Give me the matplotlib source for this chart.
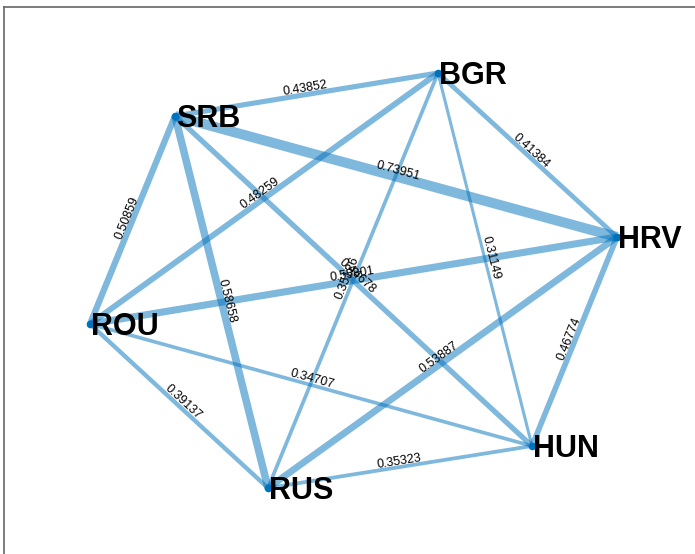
import numpy as np
import matplotlib.pyplot as plt

# node layout (screen-like coords, y grows downward)
nodes = ["BGR", "SRB", "HRV", "ROU", "HUN", "RUS"]
node_x = [438, 175, 617, 90, 532, 268]
node_y = [73, 116, 237, 324, 446, 488]

# edges and weights
src = ["SRB", "SRB", "SRB", "SRB", "SRB", "BGR", "BGR", "BGR", "BGR", "ROU", "ROU", "ROU", "HRV", "HRV", "HUN"]
dst = ["BGR", "HRV", "ROU", "RUS", "HUN", "ROU", "HRV", "HUN", "RUS", "HRV", "HUN", "RUS", "HUN", "RUS", "RUS"]
weights = [0.43852, 0.73951, 0.50859, 0.58658, 0.44678, 0.48259, 0.41384, 0.31149,
           0.35126, 0.55801, 0.34707, 0.39137, 0.46774, 0.53887, 0.35323]

BLUE = "#0072BD"

fig = plt.figure(figsize=(6.95, 5.54), dpi=100)
ax = fig.add_axes([4 / 695, 0, 691 / 695, 547 / 554])
ax.set_xlim(4, 695)
ax.set_ylim(554, 7)

pos = {n: (x, y) for n, x, y in zip(nodes, node_x, node_y)}

for s, d, w in zip(src, dst, weights):
    (x1, y1), (x2, y2) = pos[s], pos[d]
    lw = (16.3 * w - 2.0) * 0.72
    ax.plot([x1, x2], [y1, y2], color=BLUE, alpha=0.5, lw=lw, solid_capstyle="butt", zorder=1)

    # label at midpoint, rotated along the edge and kept upright
    ang = np.degrees(np.arctan2(-(y2 - y1), x2 - x1))
    if ang > 90:
        ang -= 180
    elif ang < -90:
        ang += 180
    ax.text((x1 + x2) / 2, (y1 + y2) / 2, f"{w:.5f}", fontsize=9, rotation=ang,
            rotation_mode="anchor", ha="center", va="bottom",
            family=["Liberation Sans", "DejaVu Sans"], color="black", zorder=3)

ax.scatter(node_x, node_y, s=30, color=BLUE, zorder=2, linewidths=0)
for n, x, y in zip(nodes, node_x, node_y):
    ax.text(x + 1, y + 3, n, fontsize=22, fontweight="bold", ha="left", va="center",
            family=["Liberation Sans", "DejaVu Sans"], color="black", zorder=4)

ax.set_xticks([])
ax.set_yticks([])
for side in ["right", "bottom"]:
    ax.spines[side].set_visible(False)
for side in ["left", "top"]:
    ax.spines[side].set_color("#666666")
    ax.spines[side].set_linewidth(1.2)

plt.savefig("out.png", dpi=100)
